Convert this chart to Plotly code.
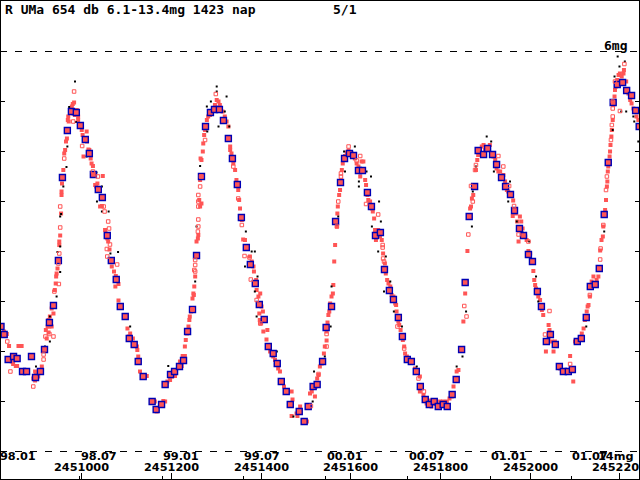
import plotly.graph_objects as go

JD0 = 2451000  # values below are JD - 2451000

# ---- blue squares (means) ----
blue_d = [-180,-173,-164,-152,-144,-132,-123,-112,-103,-92,-83,-72,-63,-52,-43,-32,-23,-12,-3,8,17,26,37,46,57,66,77,86,97,106,
          117,126,137,157,166,178,186,198,207,218,227,236,247,256,267,276,287,296,307,316,327,336,347,356,367,376,387,396,407,416,
          427,436,445,456,465,485,496,505,516,525,537,545,557,566,577,586,597,606,617,626,637,646,655,666,675,686,695,706,715,726,
          735,746,755,766,775,786,795,806,815,826,835,847,855,864,876,884,896,905,916,925,936,945,956,965,976,985,996,1005,1016,1025,
          1036,1045,1056,1065,1074,1085,1094,1105,1114,1125,1134,1145,1154,1165,1174,1185,1194,1206,1215,1226,1235,1243]
blue_m = [11.50,11.66,12.16,12.10,12.14,12.40,12.40,12.10,12.52,12.40,11.96,11.42,11.08,10.18,8.52,7.58,7.20,7.22,7.48,7.76,
          8.04,8.46,8.76,8.92,9.68,10.18,10.56,11.10,11.30,11.74,11.86,12.20,12.50,13.00,13.16,13.06,12.66,12.46,12.40,12.30,
          12.18,11.60,11.16,10.08,8.50,7.50,7.22,7.16,7.16,7.38,7.74,8.14,8.66,9.32,9.92,10.26,10.64,11.06,11.36,11.90,
          12.04,12.24,12.60,12.80,13.06,13.20,13.40,13.10,12.70,12.66,12.20,11.52,11.10,9.40,8.62,8.14,8.04,8.08,8.38,8.38,
          8.82,9.10,9.68,9.62,10.36,10.78,10.96,11.32,11.70,12.16,12.20,12.40,12.70,12.96,13.06,13.00,13.10,13.06,13.10,12.86,
          12.56,11.96,10.62,9.30,8.70,7.98,8.06,7.94,8.06,8.26,8.52,8.70,8.86,9.18,9.54,9.68,10.06,10.20,10.80,11.10,
          11.80,11.66,11.86,12.30,12.40,12.40,12.36,11.80,11.74,11.32,10.70,10.66,10.34,9.26,8.22,7.02,6.66,6.62,6.78,6.88,
          7.18,7.50]

# ---- red filled squares ----
red_d = [-178,-173,-169,-167,-162,-141,-134,-156,-153,-147,-144,-104,-102,-97,-93,-89,-104,-108,
         -78,-76,-74,-71,-67,-65,-72,-80,-74,-67,-63,-60,-57,-56,-54,-58,-50,-48,-50,-46,-45,-45,-44,-41,-39,-37,-35,-33,
         -31,-30,-26,-22,-20,-17,-19,-15,-11,-8,-8,-29,
         -4,0,2,5,4,11,12,15,17,20,22,25,30,32,35,37,41,45,47,52,54,57,59,62,67,72,76,75,82,82,102,105,
         108,114,119,123,124,126,130,141,145,163,182,186,167,191,197,201,208,204,219,225,230,223,230,232,235,238,240,241,
         244,247,249,251,253,250,256,259,260,264,267,262,264,267,265,270,271,273,275,279,282,286,290,293,297,301,305,308,
         314,319,323,327,331,331,334,338,342,345,349,351,353,357,360,364,368,375,379,383,384,389,390,394,396,397,
         398,401,404,400,405,412,414,420,427,431,433,438,442,448,451,457,468,470,468,479,487,468,481,502,509,513,520,522,
         525,528,531,535,540,542,546,546,548,550,552,554,557,560,561,563,565,569,570,571,574,576,578,580,582,583,587,591,
         595,602,609,613,617,621,624,628,632,634,637,639,643,647,649,652,654,656,661,665,669,672,676,678,681,684,686,
         688,691,695,699,701,702,706,708,711,716,719,721,725,732,743,754,758,754,762,766,769,777,780,788,799,806,814,820,
         825,829,836,840,847,851,855,860,866,868,870,873,875,879,882,884,888,892,896,899,903,910,918,922,925,929,933,940,
         944,948,951,955,962,961,968,971,974,976,
         977,980,983,989,992,996,1000,1007,1009,1011,1013,1016,1018,1022,1026,1029,1041,1043,1041,1048,1055,1035,1052,1089,
         1096,1067,1100,1104,1115,1119,1122,1126,1128,1130,1133,1137,1141,1148,1152,1156,1156,1159,1162,1163,1167,1169,1171,
         1172,1173,1174,1177,1178,1179,1181,1182,1184,1185,1188,1189,1191,1194,1197,1200,1204,1208,1209,1214,1217,1219,1223,
         1226,1230,1234,1237,1241]
red_m = [11.50,11.60,11.69,11.65,11.89,11.89,11.89,12.20,12.25,12.29,12.29,12.40,12.47,12.50,12.37,12.30,12.58,12.54,
         11.74,11.50,11.37,11.30,11.14,11.07,11.50,11.57,11.62,11.50,11.24,10.77,10.50,10.44,10.34,10.64,9.87,9.68,9.80,9.24,
         8.87,8.80,8.64,8.37,8.04,7.97,7.80,7.74,7.37,7.30,7.17,7.10,7.05,7.02,7.24,7.27,7.17,7.30,7.37,7.40,
         7.50,7.57,7.67,7.77,8.10,7.60,7.80,7.96,7.97,8.14,8.24,8.29,8.67,8.70,8.64,8.78,9.10,9.09,8.49,9.57,9.64,9.74,9.80,
         9.96,10.30,10.40,10.49,10.70,10.65,10.98,11.54,11.70,
         11.64,11.74,11.84,11.90,11.97,12.10,12.40,12.50,12.49,13.00,12.99,13.00,13.20,12.60,12.57,12.50,12.49,12.37,12.20,
         12.09,12.09,12.29,11.90,11.77,11.64,11.50,11.37,11.30,11.20,10.94,10.84,10.70,10.50,10.87,9.80,9.74,9.67,9.10,9.04,
         8.97,8.57,8.17,8.14,8.00,7.84,7.67,7.57,7.37,7.30,7.27,7.24,7.17,7.07,6.97,7.00,7.07,7.20,7.30,7.40,7.50,7.90,7.97,
         8.04,8.24,8.37,8.57,8.77,8.97,9.14,9.37,9.76,9.77,9.90,10.10,10.20,10.30,10.40,10.57,10.77,10.90,11.24,11.37,
         10.84,11.10,11.20,11.44,11.60,11.76,11.57,12.00,12.10,12.17,12.27,12.34,12.40,12.60,12.70,12.80,12.80,12.96,13.06,
         13.24,13.10,13.29,13.29,13.40,12.84,12.80,12.90,12.70,12.54,12.47,12.30,12.24,12.04,11.90,11.78,11.60,11.42,11.27,
         11.20,11.04,10.90,10.84,10.67,10.20,9.87,9.50,9.24,9.10,8.87,8.77,8.57,8.37,8.24,8.17,8.09,8.02,7.98,8.04,8.14,8.24,
         8.30,8.50,8.20,8.20,8.57,8.67,8.87,8.97,9.00,9.14,9.20,9.34,9.57,9.77,9.57,9.70,9.77,10.04,10.24,10.44,10.57,10.64,
         10.77,
         10.70,10.87,10.90,11.04,11.07,11.20,11.40,11.47,11.57,11.77,11.90,12.04,12.10,12.17,12.34,12.50,12.70,12.80,12.87,
         12.94,13.04,12.98,13.10,13.05,13.00,13.00,13.00,12.94,12.90,12.70,12.40,12.37,11.94,11.40,10.84,9.99,9.14,9.10,8.94,
         8.87,8.70,8.37,8.17,8.07,7.97,7.90,7.87,7.97,7.94,7.87,8.10,8.17,8.34,8.40,8.40,8.47,8.60,8.77,8.80,8.84,8.98,9.29,
         9.24,9.40,9.80,9.57,
         9.30,9.40,9.54,9.70,9.77,9.99,10.04,10.39,10.57,10.67,10.74,10.84,10.90,10.97,11.17,11.27,11.47,11.57,11.77,11.80,
         11.80,12.00,12.00,12.09,12.60,12.34,11.80,11.77,11.64,11.54,11.37,11.20,11.10,11.07,10.90,10.60,10.50,10.57,10.50,
         10.37,9.98,9.77,9.70,9.50,9.17,8.97,8.70,8.60,8.40,8.30,8.10,8.00,7.87,7.70,7.57,7.37,7.07,6.90,6.77,6.70,6.57,6.47,
         6.44,6.50,6.44,6.37,6.60,6.77,6.84,6.97,7.04,7.14,7.20,7.30,7.37]

# ---- red open squares ----
open_d = [-166,-159,-108,-85,-85,-81,-63,-72,-61,-51,-52,-50,-48,-48,-39,-19,-17,1,25,36,49,51,59,61,63,56,57,79,
          299,266,264,260,260,260,260,260,259,253,253,251,253,247,338,349,357,363,374,377,390,275,
          595,621,613,578,578,572,569,634,661,671,671,672,674,546,546,528,511,398,
          929,940,879,877,868,872,862,853,858,953,964,974,751,719,704,763,
          1210,1189,1184,1184,1184,1182,1180,1171,1169,1163,1157,1156,1133,1033,1043,1089,996,1200]
open_m = [11.80,12.40,12.70,12.06,12.16,11.70,11.70,11.65,10.80,10.65,10.24,10.04,9.52,9.10,8.14,7.40,6.80,7.89,8.40,
          8.50,9.10,9.20,9.40,9.54,9.86,9.95,10.10,10.26,
          6.85,8.50,8.70,8.87,9.00,9.10,9.36,9.50,9.60,10.17,10.27,10.37,10.40,11.16,8.30,8.94,9.47,10.09,10.12,10.56,10.97,7.77,
          7.90,8.09,8.18,8.44,8.50,9.00,9.50,9.05,9.26,9.87,9.92,10.14,10.20,11.65,11.90,12.45,13.09,11.44,
          8.09,8.30,8.27,8.37,8.69,9.00,9.66,11.09,11.30,8.69,9.09,9.66,12.54,11.94,11.50,12.80,
          6.25,6.60,7.00,7.14,7.30,7.47,7.77,8.50,8.77,9.47,9.94,10.16,10.87,11.66,11.19,12.25,9.80,7.19]

# ---- black dots ----
black_d = [-15,-28,-13,11,33,-34,-41,-46,-48,-48,-54,-48,-56,-71,-71,-82,-102,45,34,45,60,81,64,-32,
           301,301,323,288,279,319,280,305,329,264,256,253,108,193,366,379,364,386,392,386,390,331,
           609,585,635,645,618,618,663,667,647,661,678,674,557,555,542,518,515,472,435,587,572,
           903,913,879,919,955,951,970,872,870,857,849,836,747,714,688,696,
           1195,1199,1211,1188,1203,1214,1230,1232,1241,1184,1125,1165,1013,998,983,1018]
black_m = [6.60,7.11,7.41,8.10,8.42,8.31,8.70,9.25,9.30,9.90,10.01,10.41,10.90,11.30,11.80,11.90,12.30,8.70,9.00,9.20,
           9.20,10.01,10.04,7.90,
           6.70,6.80,6.90,7.00,7.10,7.20,7.60,7.50,7.50,8.29,9.50,10.60,11.50,12.29,9.60,10.00,10.30,10.00,10.50,10.80,
           11.30,8.17,
           7.90,8.00,8.40,8.50,8.60,8.70,9.00,9.40,9.50,10.00,10.10,10.80,10.70,11.50,12.10,12.40,13.00,13.30,12.00,8.40,9.30,
           7.70,7.80,8.30,8.40,8.60,9.00,9.40,8.80,9.50,11.20,12.10,12.30,12.30,11.50,10.60,11.20,
           6.10,6.30,6.20,6.50,7.20,7.20,7.30,7.40,7.80,7.57,11.50,9.60,10.50,9.80,9.62,11.00]

# ---- axis ticks / labels ----
jd_ticks = [2451000, 2451200, 2451400, 2451600, 2451800, 2452000, 2452200]
jd_labels = ["2451000", "2451200", "2451400", "2451600", "2451800", "2452000", "2452200"]
month_ticks = [2450814.5, 2450995.5, 2451179.5, 2451360.5, 2451544.5, 2451726.5, 2451910.5, 2452091.5]
month_labels = ["98.01", "98.07", "99.01", "99.07", "00.01", "00.07", "01.01", "01.07"]
mag_ticks = [7, 8, 9, 10, 11, 12, 13]

X_RANGE = [2450817.8, 2452244.8]
Y_RANGE = [14.57, 4.97]
W, H = 640, 480
RED = "#ff5555"
BLUE = "#0000b4"
FONT = dict(family="DejaVu Sans Mono", size=13, color="black", weight="bold")
FONT_AX = dict(family="DejaVu Sans", size=11.3, color="black", weight="bold")


def xpaper(jd):
    return (jd - X_RANGE[0]) / (X_RANGE[1] - X_RANGE[0])


fig = go.Figure()
fig.add_trace(go.Scatter(x=[JD0 + d for d in red_d], y=red_m, mode="markers",
                         marker=dict(symbol="square", size=4, color=RED, line=dict(width=0)),
                         hoverinfo="skip", showlegend=False))
fig.add_trace(go.Scatter(x=[JD0 + d for d in open_d], y=open_m, mode="markers", xaxis="x2",
                         marker=dict(symbol="square-open", size=3.5, color=RED, line=dict(width=1, color=RED)),
                         hoverinfo="skip", showlegend=False))
fig.add_trace(go.Scatter(x=[JD0 + d for d in black_d], y=black_m, mode="markers",
                         marker=dict(symbol="square", size=2, color="black", line=dict(width=0)),
                         hoverinfo="skip", showlegend=False))
fig.add_trace(go.Scatter(x=[JD0 + d for d in blue_d], y=blue_m, mode="markers",
                         marker=dict(symbol="square", size=6, color=RED, line=dict(width=1.4, color=BLUE)),
                         hoverinfo="skip", showlegend=False))

# dashed limit lines at 6 and 14 mag
for m in (6, 14):
    fig.add_shape(type="line", xref="paper", x0=0, x1=1, yref="y", y0=m, y1=m,
                  line=dict(color="black", width=1, dash="7px,8px"))
# frame
fig.add_shape(type="rect", xref="paper", yref="paper", x0=0, x1=1, y0=0, y1=1,
              line=dict(color="black", width=2))

base = dict(xref="paper", yref="paper", yanchor="middle", showarrow=False, borderpad=0)
annotations = [
    dict(text="R UMa 654 db 6.1-13.4mg 1423 nap", x=4 / W, y=1 - 9 / H, xanchor="left", font=FONT, **base),
    dict(text="5/1", x=332 / W, y=1 - 9 / H, xanchor="left", font=FONT, **base),
    dict(text="6mg", x=628 / W, y=1 - 45.5 / H, xanchor="right", font=FONT, **base),
]
for t, lab in zip(month_ticks, month_labels):
    annotations.append(dict(text=lab, x=xpaper(t), y=1 - 456.5 / H, xanchor="left", font=FONT_AX, **base))
annotations.append(dict(text="14mg", x=635 / W, y=1 - 456.5 / H, xanchor="right", font=FONT_AX, **base))
for t, lab in zip(jd_ticks, jd_labels):
    annotations.append(dict(text=lab, x=xpaper(t), y=1 - 467.5 / H, xanchor="center", font=FONT_AX, **base))

fig.update_layout(
    width=W, height=H, autosize=False,
    margin=dict(l=0, r=0, t=0, b=0, pad=0),
    paper_bgcolor="white", plot_bgcolor="white",
    xaxis=dict(range=X_RANGE, showgrid=False, zeroline=False, showline=False,
               tickmode="array", tickvals=jd_ticks, ticks="inside", ticklen=7, tickwidth=1,
               tickcolor="black", showticklabels=False),
    xaxis2=dict(range=X_RANGE, overlaying="x", anchor="y", side="bottom", showgrid=False,
                zeroline=False, showline=False, tickmode="array", tickvals=month_ticks,
                ticks="inside", ticklen=4, tickwidth=1, tickcolor="black", showticklabels=False),
    yaxis=dict(range=Y_RANGE, showgrid=False, zeroline=False, showline=False, mirror="ticks",
               tickmode="array", tickvals=mag_ticks, ticks="inside", ticklen=5, tickwidth=1,
               tickcolor="black", showticklabels=False),
    annotations=annotations,
)

fig.write_html("out.html", config={"displayModeBar": False, "staticPlot": True},
               post_script="document.body.style.margin='0px';document.body.style.overflow='hidden';")
